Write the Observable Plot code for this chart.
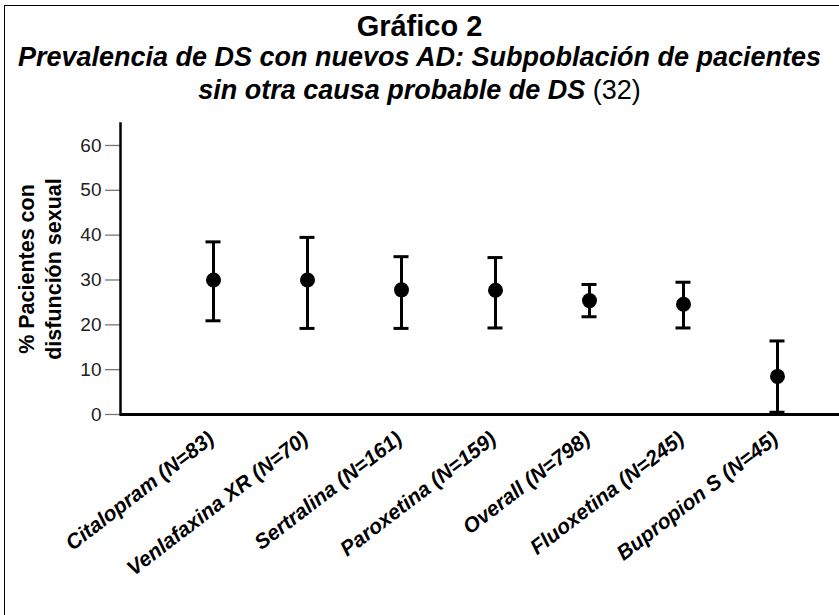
<!DOCTYPE html>
<html>
<head>
<meta charset="utf-8">
<script src="https://cdn.jsdelivr.net/npm/d3@7"></script>
<script src="https://cdn.jsdelivr.net/npm/@observablehq/plot@0.6"></script>
<style>
  html, body { margin: 0; padding: 0; background: #fff; }
  body { width: 839px; height: 615px; overflow: hidden; position: relative; font-family: "Liberation Sans", Arial, Helvetica, sans-serif; }
  #border { position: absolute; left: 4px; top: 5px; width: 900px; height: 700px; border: 1px solid #000; box-sizing: border-box; }
  .title { position: absolute; left: 0; width: 839px; text-align: center; color: #000; }
  #t1 { top: 11.5px; font-size: 29px; line-height: 29px; font-weight: bold; }
  #t2 { top: 40.5px; font-size: 27px; line-height: 33.3px; font-weight: bold; font-style: italic; }
  #t2 .ref { font-weight: normal; font-style: normal; }
  #chart { position: absolute; left: 0; top: 115px; }
</style>
</head>
<body>
<div id="border"></div>
<div class="title" id="t1">Gráfico 2</div>
<div class="title" id="t2">Prevalencia de DS con nuevos AD: Subpoblación de pacientes<br>sin otra causa probable de DS <span class="ref">(32)</span></div>
<div id="chart"></div>
<script>
const categories = ["Citalopram (N=83)", "Venlafaxina XR (N=70)", "Sertralina (N=161)", "Paroxetina (N=159)", "Overall (N=798)", "Fluoxetina (N=245)", "Bupropion S (N=45)"];
const prevalence = [30.0, 30.0, 27.8, 27.7, 25.4, 24.6, 8.5];
const lowerCI = [20.9, 19.2, 19.2, 19.3, 21.8, 19.3, 0.5];
const upperCI = [38.5, 39.5, 35.2, 35.0, 29.0, 29.5, 16.4];
const yTicks = [0, 10, 20, 30, 40, 50, 60];
const yLabel = "% Pacientes con\ndisfunción sexual";

const data = categories.map((c, i) => ({name: c, value: prevalence[i], lo: lowerCI[i], hi: upperCI[i]}));

const chart = Plot.plot({
  width: 839,
  height: 500,
  marginLeft: 120,
  marginRight: 0,
  marginTop: 8,
  marginBottom: 201,
  style: {fontFamily: '"Liberation Sans", Arial, Helvetica, sans-serif', background: "transparent", color: "#000", overflow: "visible"},
  x: {type: "point", domain: categories, range: [213, 777], padding: 0, axis: null},
  y: {domain: [0, 64.9], axis: null},
  marks: [
    Plot.axisY({ticks: yTicks, tickSize: 15, tickPadding: 4, stroke: "#777", strokeWidth: 1.3, fill: "#222", fontSize: 19, label: null, tickFormat: d => String(d)}),
    Plot.frame({anchor: "left", stroke: "#000", strokeWidth: 2.5}),
    Plot.ruleY([0], {stroke: "#000", strokeWidth: 3}),
    Plot.ruleX(data, {x: "name", y1: "lo", y2: "hi", stroke: "#000", strokeWidth: 3}),
    Plot.ruleY(data, {x1: "name", x2: "name", y: "hi", stroke: "#000", strokeWidth: 3, insetLeft: -7.5, insetRight: -7.5}),
    Plot.ruleY(data, {x1: "name", x2: "name", y: "lo", stroke: "#000", strokeWidth: 3, insetLeft: -7.5, insetRight: -7.5}),
    Plot.dot(data, {x: "name", y: "value", r: 7.5, fill: "#000", stroke: "none"}),
    Plot.text(categories, {x: d => d, frameAnchor: "bottom", dy: 27, dx: 2, rotate: -37.5, textAnchor: "end", lineAnchor: "bottom", fontSize: 21, fontWeight: "bold", fontStyle: "italic", fill: "#000"}),
    Plot.text([yLabel], {frameAnchor: "left", dx: -82, rotate: -90, textAnchor: "middle", fontSize: 21.5, fontWeight: "bold", lineHeight: 1.256, fill: "#000"})
  ]
});
document.getElementById("chart").appendChild(chart);
</script>
</body>
</html>
